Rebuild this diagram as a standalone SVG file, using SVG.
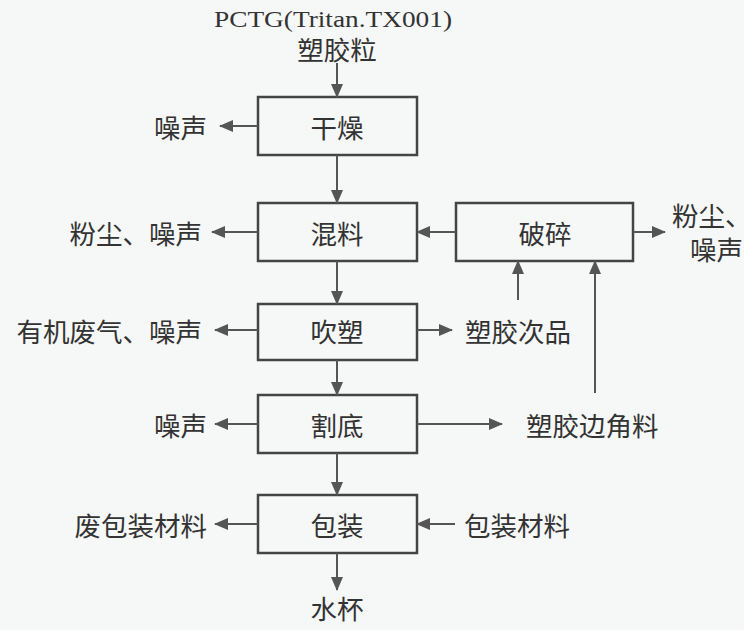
<svg xmlns="http://www.w3.org/2000/svg" width="744" height="630" viewBox="0 0 744 630">
<style>
.bg{fill:#f6f7f7}
.box{fill:none;stroke:#444;stroke-width:2.5}
.t{font-family:"Noto Sans CJK SC","Noto Sans",sans-serif;font-size:26.5px;fill:#333;dominant-baseline:central}
.c{text-anchor:middle}
.e{text-anchor:end}
.s{text-anchor:start}
.m{font-family:"Liberation Serif","DejaVu Serif",serif;font-size:23px;fill:#333;text-anchor:middle;dominant-baseline:central}
.ln{fill:none;stroke:#555;stroke-width:2;marker-end:url(#ah)}
</style>
<defs>
<marker id="ah" markerUnits="userSpaceOnUse" markerWidth="14" markerHeight="12" refX="13" refY="6" orient="auto">
<path d="M0,0 L14,6 L0,12 z" fill="#555"/>
</marker>
</defs>
<rect class="bg" x="0" y="0" width="744" height="630"/>

<g id="input">
<text class="m" x="333" y="19" textLength="238" lengthAdjust="spacingAndGlyphs">PCTG(Tritan.TX001)</text>
<text class="t c" x="337" y="48">塑胶粒</text>
</g>
<g id="dry"><rect class="box" x="258" y="97" width="159" height="58"/><text class="t c" x="337" y="126">干燥</text></g>
<g id="noise1"><text class="t e" x="207" y="126">噪声</text></g>
<g id="mix"><rect class="box" x="258" y="203" width="159" height="58"/><text class="t c" x="337" y="232">混料</text></g>
<g id="dust1"><text class="t e" x="202" y="232">粉尘、噪声</text></g>
<g id="crush"><rect class="box" x="456" y="203" width="177" height="58"/><text class="t c" x="545" y="232">破碎</text></g>
<g id="dust2"><text class="t s" x="672" y="214">粉尘、</text><text class="t s" x="690" y="248">噪声</text></g>
<g id="blow"><rect class="box" x="258" y="304" width="159" height="56"/><text class="t c" x="337" y="330">吹塑</text></g>
<g id="gas"><text class="t e" x="202" y="330">有机废气、噪声</text></g>
<g id="reject"><text class="t s" x="465" y="330">塑胶次品</text></g>
<g id="cut"><rect class="box" x="258" y="395" width="159" height="58"/><text class="t c" x="337" y="424">割底</text></g>
<g id="noise2"><text class="t e" x="207" y="424">噪声</text></g>
<g id="scrap"><text class="t s" x="526" y="424">塑胶边角料</text></g>
<g id="pack"><rect class="box" x="258" y="495" width="159" height="58"/><text class="t c" x="337" y="524">包装</text></g>
<g id="wastepack"><text class="t e" x="207" y="524">废包装材料</text></g>
<g id="packmat"><text class="t s" x="464" y="524">包装材料</text></g>
<g id="cup"><text class="t c" x="337" y="607">水杯</text></g>

<g id="connectors">
<line class="ln" x1="337" y1="63" x2="337" y2="97"/>
<line class="ln" x1="258" y1="126" x2="220" y2="126"/>
<line class="ln" x1="337" y1="155" x2="337" y2="203"/>
<line class="ln" x1="258" y1="232" x2="212" y2="232"/>
<line class="ln" x1="456" y1="232" x2="417" y2="232"/>
<line class="ln" x1="633" y1="232" x2="665" y2="232"/>
<line class="ln" x1="518" y1="300" x2="518" y2="261"/>
<line class="ln" x1="595" y1="393" x2="595" y2="261"/>
<line class="ln" x1="337" y1="261" x2="337" y2="304"/>
<line class="ln" x1="258" y1="330" x2="215" y2="330"/>
<line class="ln" x1="417" y1="330" x2="452" y2="330"/>
<line class="ln" x1="337" y1="360" x2="337" y2="395"/>
<line class="ln" x1="258" y1="424" x2="215" y2="424"/>
<line class="ln" x1="417" y1="424" x2="502" y2="424"/>
<line class="ln" x1="337" y1="453" x2="337" y2="495"/>
<line class="ln" x1="258" y1="524" x2="215" y2="524"/>
<line class="ln" x1="455" y1="524" x2="417" y2="524"/>
<line class="ln" x1="337" y1="553" x2="337" y2="590"/>
</g>
</svg>
